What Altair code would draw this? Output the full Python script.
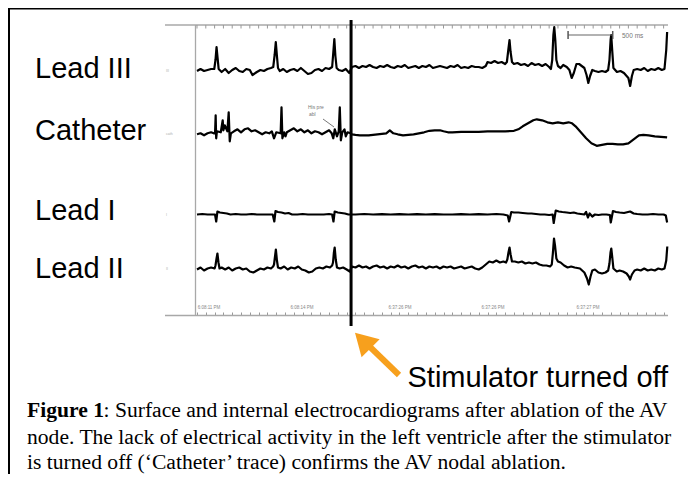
import altair as alt
import pandas as pd

# ---------------- data (time in ms, amplitude in trace units, up = positive) -------------
LEAD_III = [(0,-1),(40,1),(80,-1),(120,0),(160,1),(196,1),(210,10),(222,23),(234,12),(246,1),
    (280,-2),(320,1),(360,-3),(400,0),(440,2),(480,-1),(520,-2),(560,1),(600,0),(630,-5),(680,-2),
    (720,0),(760,-1),(800,1),(840,2),(866,3),(882,15),(895,28),(908,14),(920,2),(940,-1),(980,1),
    (1020,-2),(1060,0),(1100,1),(1140,-1),(1180,2),(1220,-1),(1260,-4),(1300,-3),(1340,0),(1380,1),
    (1420,-1),(1460,2),(1500,1),(1535,3),(1546,15),(1560,31),(1572,14),(1586,2),(1610,0),(1650,-1),
    (1690,1),(1730,-3),(1760,3),(1800,4),(1840,2),(1880,4),(1920,3),(1960,5),(2000,3),(2040,2),
    (2080,4),(2120,3),(2160,5),(2200,3),(2240,2),(2280,4),(2320,3),(2360,5),(2400,2),(2440,3),
    (2480,4),(2520,2),(2560,4),(2600,3),(2640,5),(2680,2),(2720,3),(2760,4),(2800,3),(2840,2),
    (2880,4),(2920,3),(2960,5),(3000,2),(3040,3),(3080,2),(3120,4),(3160,3),(3200,3),(3240,2),
    (3280,4),(3300,8),(3340,7),(3380,9),(3420,7),(3460,8),(3500,6),(3520,8),(3536,20),(3550,30),
    (3562,18),(3578,8),(3600,6),(3640,7),(3680,5),(3720,6),(3760,4),(3800,7),(3840,5),(3880,6),
    (3920,4),(3960,6),(4000,3),(4020,1),(4035,10),(4048,35),(4058,43),(4070,30),(4082,10),(4100,4),
    (4130,2),(4160,5),(4200,3),(4230,0),(4256,-8),(4280,-3),(4310,6),(4340,6),(4370,4),(4400,2),
    (4425,-5),(4445,-13),(4465,-6),(4490,0),(4520,-1),(4560,-2),(4600,-1),(4640,-2),(4670,0),
    (4685,10),(4698,30),(4705,35),(4716,20),(4730,2),(4770,-2),(4810,-1),(4850,-3),(4900,-8),
    (4920,-16),(4940,-6),(4960,0),(5000,1),(5040,0),(5080,2),(5120,-1),(5160,1),(5200,0),(5240,2),
    (5280,0),(5310,1),(5330,20),(5340,38)]

CATHETER = [(0,-1),(40,0),(80,-2),(120,0),(160,1),(190,0),(205,0),(212,18),(218,-5),(226,2),
    (270,1),(292,13),(300,3),(315,8),(330,5),(345,2),(360,21),(372,-8),(385,0),(420,2),(460,4),
    (500,1),(540,4),(580,5),(620,2),(660,3),(700,1),(740,-1),(780,1),(820,0),(850,2),(875,-5),
    (900,1),(950,0),(960,26),(970,-5),(990,1),(1005,-3),(1020,1),(1060,3),(1100,5),(1140,2),
    (1180,4),(1220,1),(1260,3),(1300,0),(1340,2),(1380,1),(1420,-1),(1460,1),(1500,3),(1530,0),
    (1548,-5),(1565,4),(1590,-3),(1610,2),(1622,26),(1634,-7),(1650,1),(1675,4),(1690,-3),
    (1710,1),(1745,0),(1760,-1),(1800,-1.5),(1850,-2),(1900,-2),(1950,-2),(2000,-1.5),(2050,-1),
    (2100,-0.5),(2150,0),(2190,3),(2230,0),(2280,-1),(2340,-2),(2400,-1.5),(2460,-1),(2520,0),
    (2580,1),(2640,2.5),(2700,3),(2760,3),(2800,2),(2850,1),(2900,1),(3000,1.5),(3100,1.5),
    (3200,1.5),(3300,2),(3400,2),(3500,2),(3600,2.5),(3650,4),(3700,7),(3760,10),(3820,13),
    (3860,14),(3920,13),(3980,11),(4040,10),(4100,11),(4160,10),(4220,11),(4260,10),(4300,7),
    (4360,1),(4420,-5),(4480,-10),(4540,-12.5),(4600,-11.5),(4660,-10.5),(4720,-10.5),(4780,-11),
    (4840,-11),(4900,-10),(4960,-6),(5020,-2),(5070,-1.5),(5130,-2),(5200,-3),(5270,-3.5),(5340,-4)]

LEAD_I = [(0,0),(60,0.5),(120,0),(180,0),(205,0),(218,-7),(232,3),(260,2),(300,1.5),(340,1),
    (380,0),(440,0.5),(500,0),(560,0),(620,0.5),(680,0),(740,0),(800,0),(860,0),(878,-7),(892,3.5),
    (920,2.5),(960,2),(1000,1),(1040,1.5),(1080,0),(1140,0),(1200,0.5),(1260,0),(1320,0),(1380,0),
    (1440,0),(1500,0.5),(1535,0),(1550,-7),(1564,3),(1600,2),(1640,1.5),(1680,1),(1720,0),(1800,0),
    (1900,0.5),(2000,0),(2100,0.3),(2200,0),(2300,0.3),(2400,0),(2500,0.3),(2600,0),(2700,0.3),
    (2800,0),(2900,0),(3000,0.3),(3100,0),(3200,0.3),(3300,0),(3400,0.5),(3480,0),(3530,-1),
    (3545,-7),(3570,2.5),(3600,2),(3650,2),(3700,1.5),(3760,1),(3800,1),(3850,0.5),(3900,0),
    (3950,0),(4000,-0.5),(4040,0),(4052,-8.5),(4075,4),(4110,3),(4150,2.5),(4200,2),(4240,1.5),
    (4280,2),(4320,1),(4360,0.5),(4400,0),(4420,2.5),(4440,-3),(4460,1),(4490,-2),(4520,0),
    (4560,-0.5),(4600,0),(4650,0),(4690,-0.5),(4700,-8),(4725,3.5),(4760,2.5),(4800,2),(4850,1.5),
    (4920,3),(4960,1),(5000,0.5),(5060,0),(5120,0),(5180,0.5),(5240,0),(5300,0),(5325,-1),(5340,-8)]

LEAD_II = [(0,-1),(40,1),(80,-2),(120,0),(160,1),(200,0),(210,3),(222,10),(232,15),(244,6),
    (256,0),(280,1),(320,-1),(360,1),(400,-2),(440,0),(480,1),(520,-1),(560,0),(600,-3),(640,-4),
    (680,-2),(720,0),(760,-1),(800,1),(840,0),(865,2),(875,4),(886,12),(896,19),(908,8),(920,1),
    (950,0),(990,2),(1030,-1),(1070,1),(1110,0),(1150,2),(1190,-1),(1230,-2),(1270,-4),(1310,-3),
    (1350,0),(1390,1),(1430,0),(1470,2),(1510,1),(1535,3),(1545,6),(1555,16),(1564,21),(1576,9),
    (1590,1),(1620,0),(1660,1),(1700,-1),(1735,-3),(1760,2),(1800,1),(1840,3),(1880,1),(1920,2),
    (1960,0),(2000,2),(2040,3),(2080,1),(2120,2),(2160,0),(2200,2),(2240,1),(2280,3),(2320,1),
    (2360,2),(2400,0),(2440,2),(2480,3),(2520,1),(2560,2),(2600,0),(2640,2),(2680,1),(2720,2),
    (2760,0),(2800,2),(2840,1),(2880,2),(2920,0),(2960,1),(3000,2),(3040,0),(3080,1),(3120,2),
    (3160,0),(3200,-1),(3240,1),(3280,4),(3320,7),(3360,6),(3400,8),(3440,6),(3480,7),(3510,6),
    (3525,9),(3538,16),(3550,21),(3562,14),(3578,7),(3610,7),(3650,6),(3690,7),(3730,5),(3770,6),
    (3810,5),(3850,6),(3890,4),(3930,3),(3970,3),(4010,2),(4030,4),(4042,15),(4055,30),(4068,22),
    (4082,10),(4100,7),(4130,6),(4170,3),(4210,1),(4250,2),(4290,1),(4350,0),(4400,-4),(4430,-10),
    (4450,-16),(4470,-8),(4490,-2),(4520,-1),(4560,-4),(4600,-5),(4640,-4),(4670,-2),(4685,5),
    (4697,16),(4706,20),(4716,12),(4730,0),(4768,-3),(4800,-2),(4840,-3),(4880,-5),(4905,-8),
    (4920,-11),(4940,-6),(4970,-2),(5000,-1),(5040,-2),(5080,0),(5120,-2),(5160,-1),(5200,-2),
    (5240,0),(5280,-1),(5310,0),(5330,8),(5342,22)]

LEAD_NAMES = ["Lead III", "Catheter", "Lead I", "Lead II"]
STIM_OFF_MS = [1750]
SCALE_BAR_MS = [4215, 4722]
SCALE_BAR_TEXT = "500 ms"
TIME_LABEL_MS = [136, 1193, 2306, 3363, 4442]
TIME_LABEL_TEXT = ["6:08:11 PM", "6:08:14 PM", "6:37:26 PM", "6:37:26 PM", "6:37:27 PM"]
GRID_STEP_MS = 100   # recorder time-tick spacing along the frame
HIS_NOTE = ["His pre", "abl"]
ARROW_TEXT = "Stimulator turned off"
CAPTION_BOLD = "Figure 1"
CAPTION_LINES = [
    ": Surface and internal electrocardiograms after ablation of the AV",
    "node. The lack of electrical activity in the left ventricle after the stimulator",
    "is turned off (\u2018Catheter\u2019 trace) confirms the AV nodal ablation.",
]

# ---------------- layout (pixels inside the 680x466 view) ----------------
W, H = 680, 466
TRACE_BASELINE = {"Lead III": 62, "Catheter": 125.3, "Lead I": 206.5, "Lead II": 260.5}
LABEL_BASELINE_Y = [70, 132, 212, 270]
LABEL_X = 27
FONT_SANS = "Liberation Sans"
FONT_SERIF = "Liberation Serif"
ORANGE = "#F7A01D"
GRAY = "#a8a8a8"
CAPTION_SIZE = 21.6
BOTTOM_TICK_Y = 304

rows = []
for name, pts in zip(LEAD_NAMES, [LEAD_III, CATHETER, LEAD_I, LEAD_II]):
    for t, v in pts:
        rows.append({"lead": name, "t": t, "v": v, "base": TRACE_BASELINE[name]})
traces_df = pd.DataFrame(rows)

xscale = alt.Scale(domain=[0, 5350], range=[189, 660])
yscale = alt.Scale(domain=[0, H], range=[0, H])
ONE = pd.DataFrame({"k": [0]})

tick_axis = dict(domain=False, labels=False, grid=False, ticks=True, tickSize=3.5,
                 tickColor="#999", tickWidth=1, tickCount=54, title=None, orient="bottom")

traces = alt.Chart(traces_df).transform_calculate(pos="datum.base - datum.v").mark_line(
    color="black", strokeWidth=2.2, strokeJoin="round"
).encode(
    x=alt.X("t:Q", scale=xscale, axis=None),
    y=alt.Y("pos:Q", scale=yscale, axis=None),
    detail="lead:N",
)

time_labels = alt.Chart(pd.DataFrame({"t": TIME_LABEL_MS, "label": TIME_LABEL_TEXT})).mark_text(
    font=FONT_SANS, fontSize=4.5, color="#888"
).encode(
    x=alt.X("t:Q", scale=xscale, axis=alt.Axis(offset=BOTTOM_TICK_Y - H, **tick_axis)),
    y=alt.value(300),
    text="label:N",
)

# top-edge time ticks of the recorder frame (one per GRID_STEP_MS across the domain)
top_ticks = alt.Chart(alt.sequence(0, 5350, GRID_STEP_MS, as_="t")).mark_rule(
    color="#999", strokeWidth=1
).encode(
    x=alt.X("t:Q", scale=xscale, axis=None), y=alt.value(17), y2=alt.value(20.5))

def vrule(x, y1, y2, color, width):
    return alt.Chart(ONE).mark_rule(color=color, strokeWidth=width).encode(
        x=alt.value(x), y=alt.value(y1), y2=alt.value(y2))

def hrule(y, x1, x2, color, width):
    return alt.Chart(ONE).mark_rule(color=color, strokeWidth=width).encode(
        y=alt.value(y), x=alt.value(x1), x2=alt.value(x2))

def label(text, x, y, size, font=FONT_SANS, weight="normal", color="black", align="left"):
    return alt.Chart(ONE).mark_text(text=text, font=font, fontSize=size, fontWeight=weight,
                                     color=color, align=align, baseline="alphabetic").encode(
        x=alt.value(x), y=alt.value(y))

layers = []
# outer border
layers.append(hrule(0.5, 0, W, "black", 2))
layers.append(vrule(1, 0, H, "black", 2))
# gray recorder frame
layers.append(hrule(17, 157, 660, GRAY, 1.3))
layers.append(hrule(307.5, 157, 660, GRAY, 1.3))
layers.append(vrule(187.5, 17, 308, GRAY, 1.3))
layers.append(top_ticks)
# tiny channel tags on the recorder frame
for tag, nm in zip(["III", "cath", "I", "II"], LEAD_NAMES):
    layers.append(label(tag, 158, TRACE_BASELINE[nm] + 1.5, 3.5, color="#aaa"))

layers.append(traces)
layers.append(time_labels)

# stimulator-off marker
stim = alt.Chart(pd.DataFrame({"t": STIM_OFF_MS})).mark_rule(color="black", strokeWidth=3).encode(
    x=alt.X("t:Q", scale=xscale, axis=None), y=alt.value(12), y2=alt.value(318))

# 500 ms scale bar
bar_df = pd.DataFrame({"t0": [SCALE_BAR_MS[0]], "t1": [SCALE_BAR_MS[1]]})
layers.append(alt.Chart(bar_df).mark_rule(color="#666", strokeWidth=1.2).encode(
    x=alt.X("t0:Q", scale=xscale, axis=None), x2="t1:Q", y=alt.value(27)))
layers.append(alt.Chart(pd.DataFrame({"t": SCALE_BAR_MS})).mark_rule(color="#555", strokeWidth=1.5).encode(
    x=alt.X("t:Q", scale=xscale, axis=None), y=alt.value(23), y2=alt.value(31)))
layers.append(label(SCALE_BAR_TEXT, 614, 29.5, 6.5, color="#777"))
layers.append(stim)

# "His pre abl" note
layers.append(label(HIS_NOTE[0], 300, 100.5, 5, color="#777"))
layers.append(label(HIS_NOTE[1], 301, 107.5, 5, color="#777"))
layers.append(alt.Chart(ONE).mark_rule(color="#555", strokeWidth=0.8).encode(
    x=alt.value(315), y=alt.value(111), x2=alt.value(326), y2=alt.value(119)))

# lead labels
for nm, yb in zip(LEAD_NAMES, LABEL_BASELINE_Y):
    layers.append(label(nm, LABEL_X, yb, 29))

# orange arrow
layers.append(alt.Chart(ONE).mark_rule(color=ORANGE, strokeWidth=6).encode(
    x=alt.value(391), y=alt.value(367), x2=alt.value(360), y2=alt.value(337)))
layers.append(alt.Chart(ONE).mark_point(shape="triangle-up", filled=True, size=650, angle=315,
                                        color=ORANGE, opacity=1).encode(
    x=alt.value(354.8), y=alt.value(332.5)))
layers.append(label(ARROW_TEXT, 399.5, 378.7, 29))

# caption
layers.append(label(CAPTION_BOLD, 19, 409, CAPTION_SIZE, font=FONT_SERIF, weight="bold"))
layers.append(label(CAPTION_LINES[0], 95.5, 409, CAPTION_SIZE, font=FONT_SERIF))
layers.append(label(CAPTION_LINES[1], 19, 435.5, CAPTION_SIZE, font=FONT_SERIF))
layers.append(label(CAPTION_LINES[2], 19, 461, CAPTION_SIZE, font=FONT_SERIF))

chart = alt.layer(*layers).resolve_axis(x="independent").properties(
    width=W, height=H, padding=0, autosize=alt.AutoSizeParams(type="none")
).configure_view(stroke=None)

chart.save("out.html", embed_options={"renderer": "svg", "actions": False})
